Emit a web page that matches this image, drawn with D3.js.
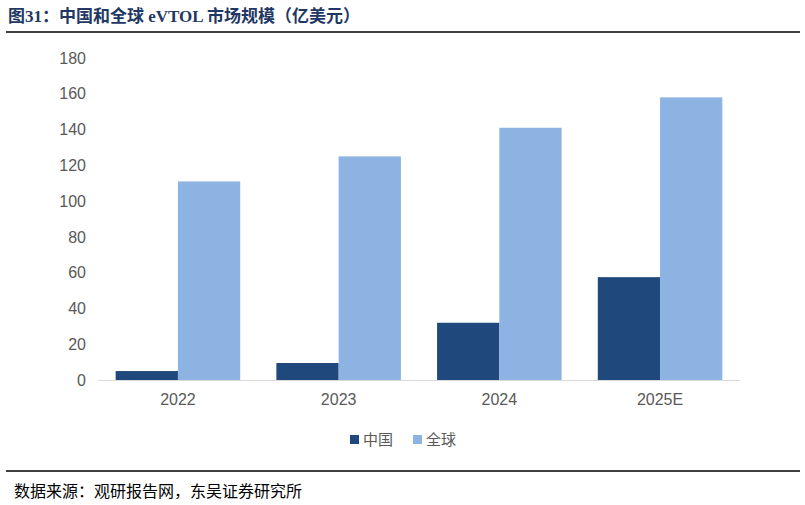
<!DOCTYPE html>
<html><head><meta charset="utf-8">
<script src="https://cdn.jsdelivr.net/npm/d3@7"></script>
<style>body{margin:0;background:#fff}</style>
</head><body><svg id="c" width="805" height="505"></svg>
<script>
const years = ['2022', '2023', '2024', '2025E'];
const china = [5, 9.5, 32, 57.5];
const world = [111, 125, 141, 158];
const seriesNames = ['中国', '全球'];
const colors = ['#1f497d', '#8db3e2'];
const yTicks = [0, 20, 40, 60, 80, 100, 120, 140, 160, 180];

const svg = d3.select('#c');
const cjk = '"Noto Sans CJK SC", sans-serif';

svg.append('text').attr('x', 8).attr('y', 22)
  .attr('font-family', '"Liberation Serif","Noto Sans CJK SC",serif').attr('font-weight', 'bold')
  .attr('font-size', 17).attr('fill', '#1f3864')
  .text('图31：中国和全球 eVTOL 市场规模（亿美元）');
svg.append('line').attr('x1', 6).attr('x2', 800).attr('y1', 32).attr('y2', 32)
  .attr('stroke', '#000').attr('stroke-width', 1.5);
svg.append('line').attr('x1', 6).attr('x2', 800).attr('y1', 471).attr('y2', 471)
  .attr('stroke', '#000').attr('stroke-width', 1.5);
svg.append('text').attr('x', 14).attr('y', 497).attr('font-family', cjk)
  .attr('font-size', 16).attr('fill', '#000').text('数据来源：观研报告网，东吴证券研究所');

const margin = { left: 98, right: 740, top: 58, bottom: 380 };
const x = d3.scaleBand().domain(years).range([margin.left, margin.right]).paddingInner(0.225).paddingOuter(0.11);
const y = d3.scaleLinear().domain([0, 180]).range([margin.bottom, margin.top]);

const yAxis = svg.append('g').attr('transform', `translate(${margin.left},0)`)
  .call(d3.axisLeft(y).tickValues(yTicks).tickSize(0).tickPadding(12));
yAxis.select('.domain').remove();
yAxis.selectAll('text').attr('font-family', 'Liberation Sans, Arial').attr('font-size', 16).attr('fill', '#595959');

const xAxis = svg.append('g').attr('transform', `translate(0,${margin.bottom})`)
  .call(d3.axisBottom(x).tickSize(0).tickPadding(14));
xAxis.select('.domain').attr('stroke', '#d9d9d9').attr('d', `M${margin.left},0.5H${margin.right}`);
xAxis.selectAll('text').attr('font-family', 'Liberation Sans, Arial').attr('font-size', 16).attr('fill', '#595959');

const bw = x.bandwidth() / 2;
[china, world].forEach((vals, s) => {
  svg.append('g').selectAll('rect').data(vals).enter().append('rect')
    .attr('x', (d, i) => x(years[i]) + s * bw)
    .attr('y', d => y(d))
    .attr('width', bw)
    .attr('height', d => y(0) - y(d))
    .attr('fill', colors[s]);
});

const lg = svg.append('g').attr('transform', 'translate(350,440)');
seriesNames.forEach((n, i) => {
  const g = lg.append('g').attr('transform', `translate(${i * 63},0)`);
  g.append('rect').attr('x', 0).attr('y', -5).attr('width', 9).attr('height', 9).attr('fill', colors[i]);
  g.append('text').attr('x', 13).attr('y', 5).attr('font-family', cjk).attr('font-size', 15)
    .attr('fill', '#595959').text(n);
});
</script></body></html>
